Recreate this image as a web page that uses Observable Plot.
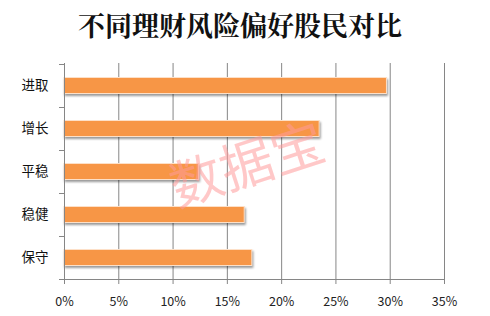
<!DOCTYPE html>
<html><head><meta charset="utf-8">
<script src="https://cdn.jsdelivr.net/npm/d3@7"></script>
<script src="https://cdn.jsdelivr.net/npm/@observablehq/plot@0.6"></script>
<style>
html,body{margin:0;padding:0;background:#fff;}
#wrap{position:relative;width:490px;height:316px;}
#title{position:absolute;left:0;top:9px;width:480px;text-align:center;font-family:"Noto Serif CJK SC","Noto Sans CJK SC",serif;font-weight:700;font-size:27px;color:#111;line-height:32px;z-index:2;}
g[aria-label="bar"] rect{filter:drop-shadow(1.5px 2px 1.2px rgba(0,0,0,0.4));}
</style></head>
<body><div id="wrap"><div id="title">不同理财风险偏好股民对比</div></div>
<script>
const categories = ["进取", "增长", "平稳", "稳健", "保守"];
const values = [0.297, 0.235, 0.124, 0.166, 0.173];
const xTicks = [0, 0.05, 0.10, 0.15, 0.20, 0.25, 0.30, 0.35];
const watermark = ["数据宝"];

const data = categories.map((c, i) => ({cat: c, v: values[i]}));

const boundaryTicks = (index, scales, values, dim) => {
  const g = d3.create("svg:g").attr("stroke", "#868686").attr("stroke-width", 1);
  const bw = scales.y.bandwidth ? scales.y.bandwidth() : 0;
  const x0 = dim.marginLeft;
  const ys = categories.map(c => scales.y(c));
  ys.push(ys[ys.length - 1] + bw);
  for (const y of ys) {
    g.append("line").attr("x1", x0 - 5).attr("x2", x0).attr("y1", Math.round(y) + 0.5).attr("y2", Math.round(y) + 0.5);
  }
  const yb = dim.height - dim.marginBottom;
  g.append("line").attr("x1", x0).attr("x2", dim.width - dim.marginRight).attr("y1", yb + 0.5).attr("y2", yb + 0.5);
  g.append("line").attr("x1", x0 + 0.5).attr("x2", x0 + 0.5).attr("y1", dim.marginTop).attr("y2", yb);
  return g.node();
};

const chart = Plot.plot({
  width: 490,
  height: 316,
  marginLeft: 64,
  marginRight: 46,
  marginTop: 63,
  marginBottom: 37,
  style: {fontFamily: "'Noto Sans CJK SC', sans-serif", background: "transparent"},
  x: {domain: [0, 0.35], label: null},
  y: {domain: categories, padding: 0, label: null},
  marks: [
    Plot.gridX(xTicks.slice(1), {stroke: "#868686", strokeOpacity: 1, strokeWidth: 1}),
    Plot.barX(data, {x: "v", y: "cat", fill: "#f79646", stroke: "#fde0c8", strokeWidth: 1, insetTop: 13.5, insetBottom: 13.5}),
    boundaryTicks,
    Plot.axisX({ticks: xTicks, tickFormat: d3.format(".0%"), tickSize: 5, tickPadding: 13, stroke: "#868686", fill: "#222", fontSize: 12.5, label: null}),
    Plot.axisY({tickSize: 0, tickPadding: 16, fill: "#111", fontSize: 13.5, label: null}),
    Plot.text(watermark, {text: d => d, frameAnchor: "middle", dx: -7, dy: -5, rotate: -18, fontSize: 53, fill: "#ff9a9a", fillOpacity: 0.55, fontFamily: "'Noto Sans CJK SC', sans-serif"})
  ]
});
document.getElementById("wrap").appendChild(chart);
</script>
</body></html>
